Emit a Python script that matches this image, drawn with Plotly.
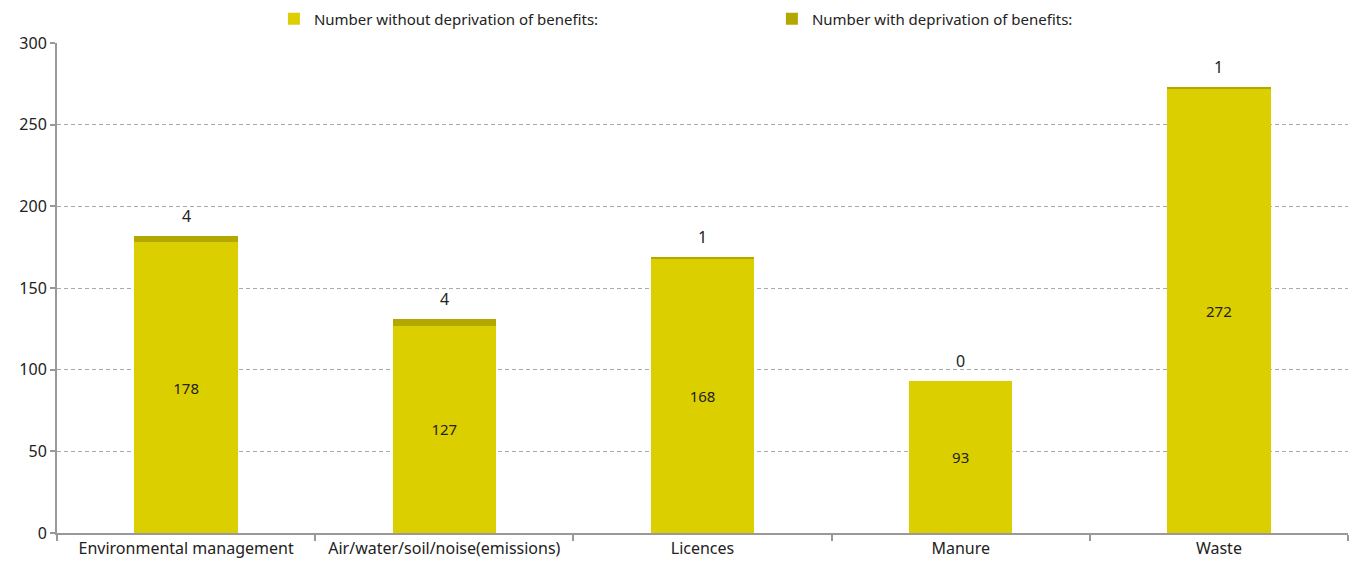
import plotly.graph_objects as go

categories = ["Environmental management", "Air/water/soil/noise(emissions)", "Licences", "Manure", "Waste"]
without_deprivation = [178, 127, 168, 93, 272]
with_deprivation = [4, 4, 1, 0, 1]
series_names = ["Number without deprivation of benefits:", "Number with deprivation of benefits:"]
y_ticks = [0, 50, 100, 150, 200, 250, 300]

totals = [a + b for a, b in zip(without_deprivation, with_deprivation)]

FONT = "Noto Sans"
TXT = "#222222"

fig = go.Figure()
fig.add_trace(go.Bar(
    x=categories, y=without_deprivation, name=series_names[0],
    marker=dict(color="#DBCF00", line=dict(width=0)),
    text=[str(v) for v in without_deprivation], textposition="inside",
    insidetextanchor="middle", textfont=dict(family=FONT, size=15, color=TXT),
    textangle=0, width=0.4,
))
fig.add_trace(go.Bar(
    x=categories, y=with_deprivation, name=series_names[1],
    marker=dict(color="#B3A800", line=dict(width=0)),
    width=0.4,
))
for cat, tot, lab in zip(categories, totals, with_deprivation):
    fig.add_annotation(x=cat, y=tot, text=str(lab), showarrow=False,
                       yanchor="bottom", yshift=7,
                       font=dict(family=FONT, size=16, color=TXT))

fig.update_layout(
    barmode="stack",
    width=1354, height=567,
    margin=dict(l=57, r=6, t=43, b=34, autoexpand=False),
    plot_bgcolor="white", paper_bgcolor="white",
    font=dict(family=FONT, size=16, color=TXT),
    legend=dict(orientation="h", x=0.168, xanchor="left", y=1.049, yanchor="middle",
                entrywidth=453, entrywidthmode="pixels",
                font=dict(family=FONT, size=15, color=TXT),
                itemwidth=30, traceorder="normal", tracegroupgap=0),
    showlegend=True,
)
fig.update_xaxes(
    showline=True, linecolor="#999999", linewidth=2,
    ticks="outside", tickson="boundaries", ticklen=6, tickcolor="#999999", tickwidth=2,
    showgrid=False, tickfont=dict(family=FONT, size=16, color=TXT),
)
fig.update_yaxes(
    range=[0, 300], tickvals=y_ticks, showline=True, linecolor="#999999", linewidth=2,
    ticks="outside", ticklen=5, tickcolor="#999999", tickwidth=2,
    showgrid=True, gridcolor="#AAAAAA", griddash="4px,3px", gridwidth=1,
    zeroline=False, tickfont=dict(family=FONT, size=16, color=TXT),
)

fig.write_html("out.html")
